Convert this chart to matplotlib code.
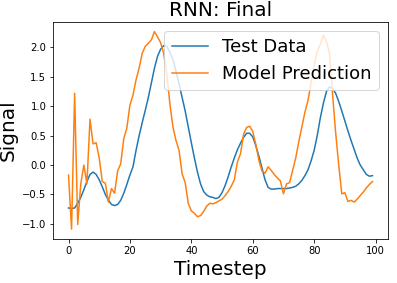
import matplotlib
matplotlib.use("Agg")
import matplotlib.pyplot as plt
import numpy as np

test_data = [
    -0.73, -0.74, -0.73, -0.65, -0.55, -0.42, -0.28, -0.16, -0.12, -0.16,
    -0.25, -0.37, -0.50, -0.60, -0.67, -0.69, -0.67, -0.60, -0.48, -0.33,
    -0.17, -0.03, 0.25, 0.50, 0.72, 0.93, 1.15, 1.40, 1.65, 1.85,
    1.97, 2.03, 2.02, 1.92, 1.80, 1.60, 1.38, 1.15, 0.92, 0.65,
    0.38, 0.12, -0.12, -0.32, -0.45, -0.51, -0.54, -0.55, -0.57, -0.55,
    -0.47, -0.35, -0.20, -0.03, 0.12, 0.26, 0.37, 0.47, 0.54, 0.54,
    0.48, 0.33, 0.15, -0.05, -0.25, -0.38, -0.41, -0.41, -0.40, -0.40,
    -0.40, -0.40, -0.39, -0.38, -0.36, -0.32, -0.26, -0.18, -0.08, 0.07,
    0.25, 0.50, 0.80, 1.05, 1.25, 1.33, 1.30, 1.22, 1.08, 0.92,
    0.75, 0.58, 0.42, 0.27, 0.12, 0.00, -0.08, -0.16, -0.19, -0.18,
]

prediction = [
    -0.17, -1.09, 1.22, -1.01, -0.32, 0.00, -0.32, 0.78, 0.36, 0.38,
    0.12, -0.28, -0.31, -0.63, -0.40, -0.48, -0.10, 0.02, 0.45, 0.63,
    1.02, 1.19, 1.45, 1.65, 1.90, 2.02, 2.07, 2.13, 2.27, 2.18,
    2.08, 1.90, 1.55, 1.05, 0.65, 0.42, 0.25, -0.15, -0.30, -0.65,
    -0.78, -0.82, -0.88, -0.86, -0.79, -0.70, -0.65, -0.66, -0.64, -0.61,
    -0.58, -0.52, -0.45, -0.36, -0.25, 0.05, 0.19, 0.52, 0.64, 0.66,
    0.57, 0.35, 0.08, -0.10, -0.14, -0.03, -0.09, -0.16, -0.22, -0.27,
    -0.49, -0.32, -0.30, -0.09, 0.12, 0.40, 0.65, 0.90, 1.10, 1.40,
    1.70, 1.93, 2.05, 2.21, 2.10, 1.90, 1.20, 0.55, 0.00, -0.49,
    -0.47, -0.62, -0.60, -0.63, -0.58, -0.52, -0.46, -0.39, -0.33, -0.28,
]

timesteps = np.arange(len(test_data))

fig = plt.figure(figsize=(397 / 72, 283 / 72), dpi=72)
ax = fig.add_axes([53.3 / 397, 1 - 239 / 283, (387.7 - 53.3) / 397, (239 - 21.7) / 283])
ax.plot(timesteps, test_data, label="Test Data")
ax.plot(timesteps, prediction, label="Model Prediction")
ax.set_title("RNN: Final", fontsize=20)
ax.set_xlabel("Timestep", fontsize=20)
ax.set_ylabel("Signal", fontsize=20)
ax.legend(loc="upper right", fontsize=18)
fig.savefig("out.png", dpi=72)
